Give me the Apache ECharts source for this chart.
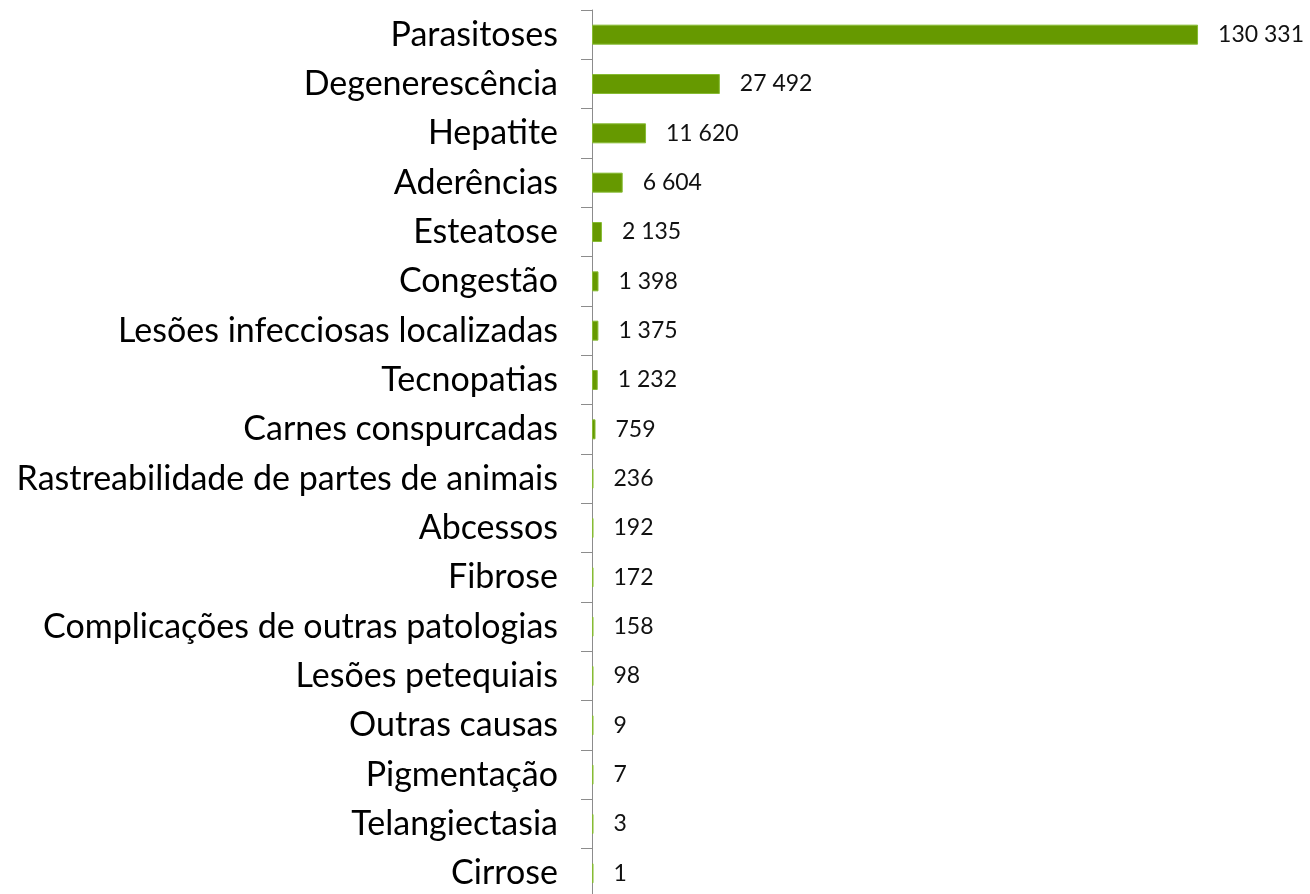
<!DOCTYPE html>
<html>
<head>
<meta charset="utf-8">
<script src="https://cdn.jsdelivr.net/npm/echarts@6/dist/echarts.min.js"></script>
<style>
  html, body { margin: 0; padding: 0; background: #fff; overflow: hidden; }
  #chart { width: 1310px; height: 900px; }
</style>
</head>
<body>
<div id="chart"></div>
<script>
const causes = [
  "Parasitoses", "Degenerescência", "Hepatite", "Aderências", "Esteatose",
  "Congestão", "Lesões infecciosas localizadas", "Tecnopatias", "Carnes conspurcadas",
  "Rastreabilidade de partes de animais", "Abcessos", "Fibrose",
  "Complicações de outras patologias", "Lesões petequiais", "Outras causas",
  "Pigmentação", "Telangiectasia", "Cirrose"
];
const counts = [
  130331, 27492, 11620, 6604, 2135, 1398, 1375, 1232, 759,
  236, 192, 172, 158, 98, 9, 7, 3, 1
];

function spaced(value) {
  return String(value).replace(/\B(?=(\d{3})+(?!\d))/g, " ");
}

// the plot runs a few pixels past the bottom of the window, like the original
const chart = echarts.init(document.getElementById("chart"));
chart.setOption({
  animation: false,
  grid: { left: 592, right: 67, top: 10, height: 888 },
  xAxis: {
    type: "value",
    min: 0,
    max: 140000,
    show: false,
  },
  yAxis: {
    type: "category",
    data: causes,
    inverse: true,
    axisLine: { show: true, lineStyle: { color: "#8c8c8c", width: 1 } },
    axisTick: { show: true, length: 11, lineStyle: { color: "#8c8c8c" } },
    axisLabel: {
      margin: 34,
      color: "#000",
      fontFamily: "Lato",
      fontSize: 34,
    },
  },
  series: [
    {
      type: "bar",
      data: counts,
      barWidth: 20,
      barMinHeight: 1.5,
      itemStyle: { color: "#669900", borderColor: "#86bb32", borderWidth: 1 },
      label: {
        show: true,
        position: "right",
        distance: 20,
        color: "#111",
        fontFamily: "Lato",
        fontSize: 23,
        formatter: (p) => spaced(p.value),
      },
    },
  ],
});
</script>
</body>
</html>
